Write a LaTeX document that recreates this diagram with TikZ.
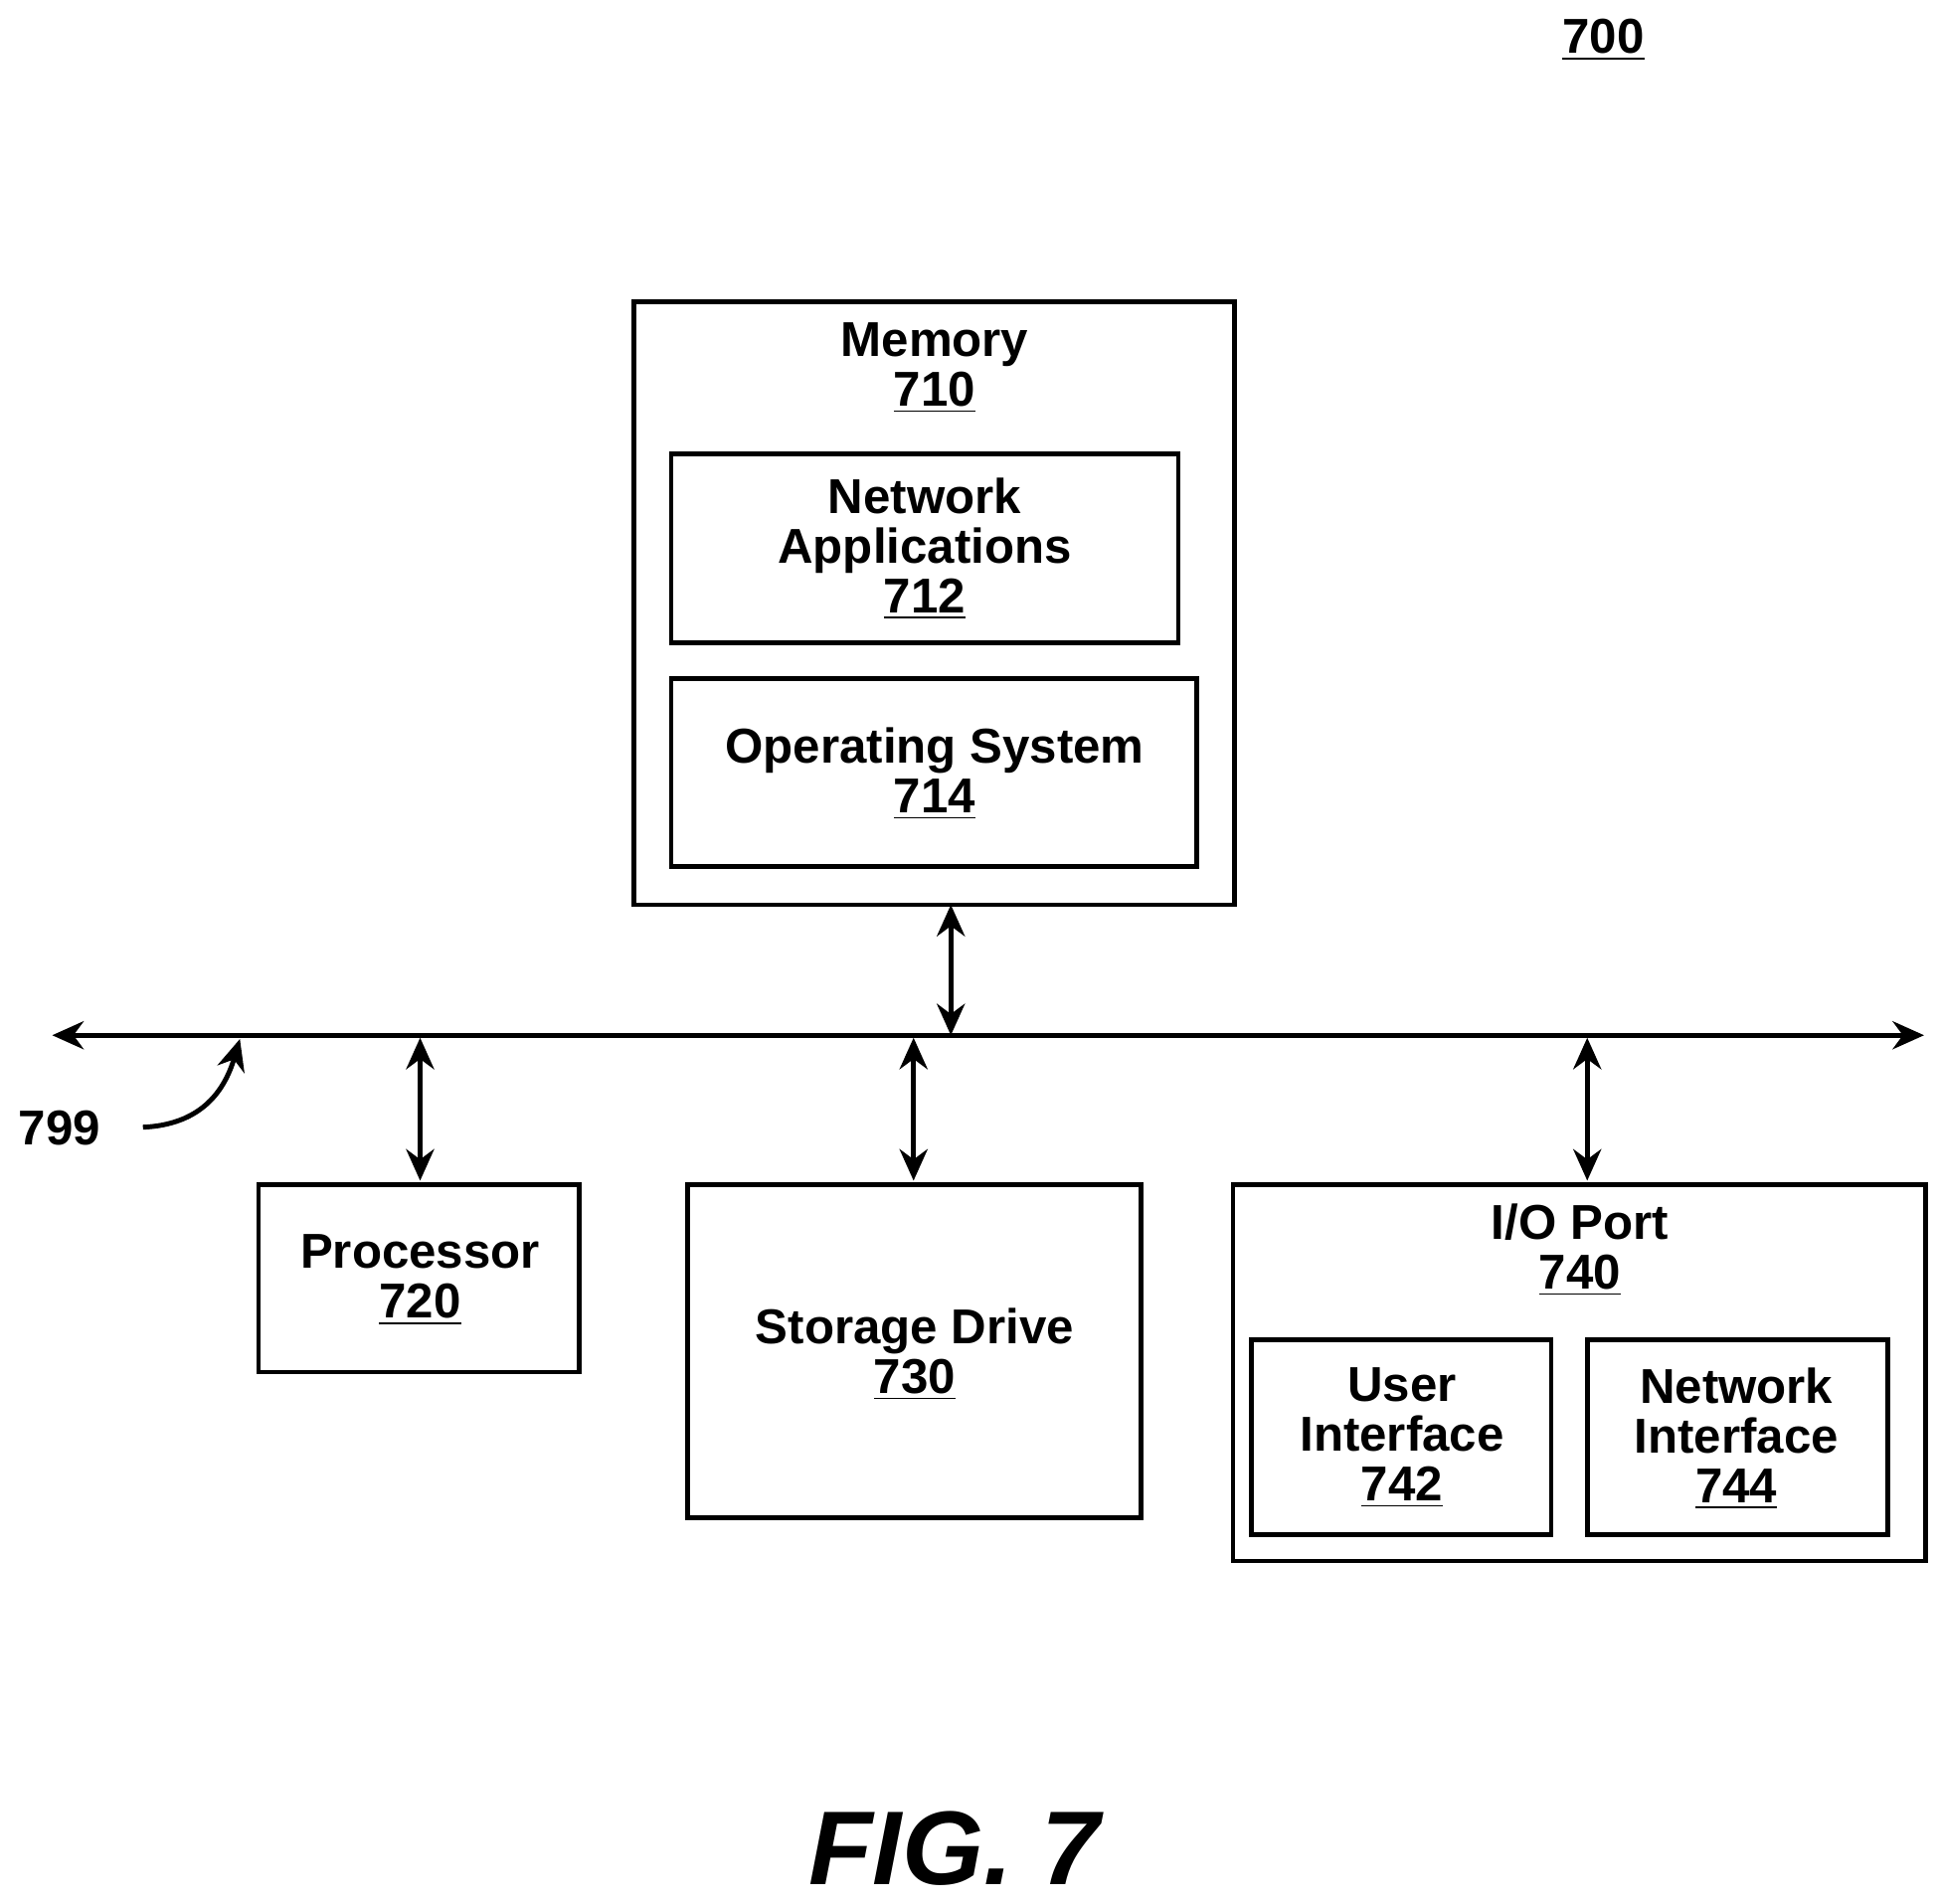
\documentclass[tikz,border=0pt]{standalone}
\usepackage{fontspec}
\setmainfont{Liberation Sans}
\usetikzlibrary{arrows.meta}
\begin{document}
\begin{tikzpicture}[x=0.0125cm,y=-0.0125cm,
  box/.style={draw,line width=1.4pt},
  lbl/.style={font=\fontsize{14}{14.2}\selectfont\bfseries,align=center,anchor=north,inner sep=0pt},
  dbl/.style={line width=1.4pt,{Stealth[length=9pt,width=8pt]}-{Stealth[length=9pt,width=8pt]}}]
\useasboundingbox (0,0) rectangle (1560.8,1532);
\node[font=\fontsize{14}{14.2}\selectfont\bfseries] (n700) at (1290,32) {\underline{700}};
% memory
\draw[box] (510,243) rectangle (993,728);
\coordinate (memb) at (765,728);
\node[lbl] (mem) at (752,259) {Memory\\\underline{710}};
\draw[box] (540,365) rectangle (948,517);
\node[lbl] (na) at (744,384) {Network\\Applications\\\underline{712}};
\draw[box] (540,546) rectangle (963,697);
\node[lbl] (os) at (752,585) {Operating System\\\underline{714}};
% bus
\coordinate (bl) at (42,833); \coordinate (br) at (1548,833);
\draw[dbl] (bl) -- (br);
\coordinate (m1) at (765,833);
\draw[dbl] (memb) -- (m1);
% processor
\draw[box] (208,953) rectangle (466,1104);
\node[lbl] (proc) at (338,993) {Processor\\\underline{720}};
\coordinate (p0) at (338,835); \coordinate (p1) at (338,950);
\draw[dbl] (p0) -- (p1);
% storage
\draw[box] (553,953) rectangle (918,1221);
\node[lbl] (st) at (736,1052) {Storage Drive\\\underline{730}};
\coordinate (s0) at (735,835); \coordinate (s1) at (735,950);
\draw[dbl] (s0) -- (s1);
% io
\draw[box] (992,953) rectangle (1549,1256);
\node[lbl] (io) at (1271,968) {I/O Port\\\underline{740}};
\coordinate (i0) at (1277,835); \coordinate (i1) at (1277,950);
\draw[dbl] (i0) -- (i1);
\draw[box] (1007,1078) rectangle (1248,1235);
\node[lbl] (ui) at (1128,1100) {User\\Interface\\\underline{742}};
\draw[box] (1277,1078) rectangle (1519,1235);
\node[lbl] (ni) at (1397,1100) {Network\\Interface\\\underline{744}};
% 799
\node[font=\fontsize{14}{14.2}\selectfont\bfseries] (n799) at (48,908) {799};
\coordinate (c0) at (115,907); \coordinate (c1) at (193,836);
\draw[line width=1.4pt,-{Stealth[length=9pt,width=8pt]}] (c0) .. controls (160,905) and (180,880) .. (c1);
\node[font=\fontsize{30}{34}\selectfont\bfseries\itshape] (fig) at (768,1487) {FIG. 7};
\end{tikzpicture}
\end{document}
